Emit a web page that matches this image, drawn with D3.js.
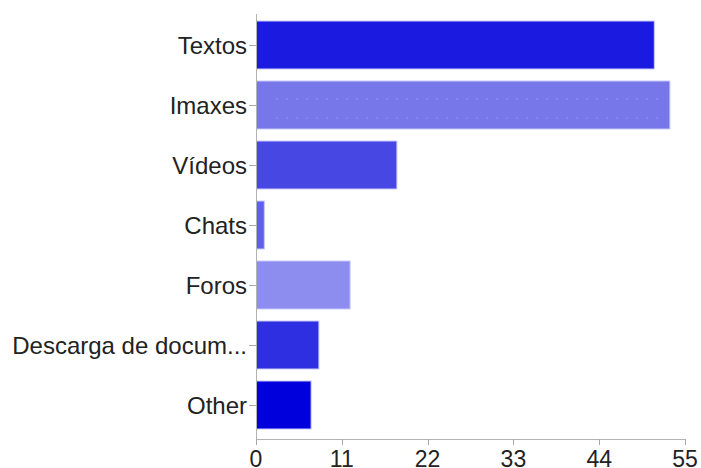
<!DOCTYPE html>
<html>
<head>
<meta charset="utf-8">
<script src="https://cdn.jsdelivr.net/npm/d3@7"></script>
<style>
  body { margin: 0; background: #fff; }
  text { font-family: "Liberation Sans", Arial, sans-serif; }
</style>
</head>
<body>
<div id="chart"></div>
<script>
var categories = ["Textos", "Imaxes", "Vídeos", "Chats", "Foros", "Descarga de docum...", "Other"];
var values = [51, 53, 18, 1, 12, 8, 7];
var colors = ["#1a1ae0", "#7777ea", "#4747e3", "#6060ee", "#8d8def", "#2f2fe2", "#0000dd"];
var tickValues = [0, 11, 22, 33, 44, 55];

var width = 701, height = 468;
var plotLeft = 256, plotRight = 685, plotTop = 15, plotBottom = 435, axisY = 439;

var svg = d3.select("#chart")
            .append("svg")
            .attr("width", width)
            .attr("height", height)

var x = d3.scaleLinear().domain([0, 55]).range([plotLeft, plotRight])
var y = d3.scaleBand().domain(categories).range([plotTop, plotBottom])
            .paddingInner(0.2).paddingOuter(0.1)

// faint dotted pattern seen on the "Imaxes" bar
var defs = svg.append("defs")
var pat = defs.append("pattern")
            .attr("id", "dots")
            .attr("patternUnits", "userSpaceOnUse")
            .attr("x", 276).attr("y", 94)
            .attr("width", 10).attr("height", 19)
pat.append("rect").attr("width", 10).attr("height", 19).attr("fill", colors[1])
pat.append("rect").attr("x", 0.5).attr("y", 4.5).attr("width", 1.2).attr("height", 1.2).attr("fill", "#9a9af3")

svg.selectAll("rect.bar")
    .data(values)
    .enter()
    .append("rect")
    .attr("class", "bar")
    .attr("x", x(0) + 0.5)
    .attr("y", (d, i) => y(categories[i]))
    .attr("width", (d) => x(d) - x(0))
    .attr("height", y.bandwidth())
    .attr("fill", (d, i) => colors[i])
    .attr("stroke", "#c9c9fb")
    .attr("stroke-width", 1)

// dots only in the inner part of Imaxes
svg.append("rect")
    .attr("x", 276)
    .attr("y", y("Imaxes") + 14)
    .attr("width", x(values[1]) - 10 - 276)
    .attr("height", 24)
    .attr("fill", "url(#dots)")

// y axis
var yAxis = svg.append("g")
yAxis.append("line")
    .attr("x1", plotLeft + 0.5).attr("x2", plotLeft + 0.5)
    .attr("y1", 14).attr("y2", axisY + 3)
    .attr("stroke", "#b3b3b3")
yAxis.selectAll("line.tick")
    .data(categories)
    .enter()
    .append("line")
    .attr("x1", plotLeft - 7).attr("x2", plotLeft)
    .attr("y1", (d) => y(d) + y.bandwidth() / 2 + 0.5)
    .attr("y2", (d) => y(d) + y.bandwidth() / 2 + 0.5)
    .attr("stroke", "#a8a8a8")
yAxis.selectAll("text")
    .data(categories)
    .enter()
    .append("text")
    .attr("x", plotLeft - 9)
    .attr("y", (d) => y(d) + y.bandwidth() / 2)
    .attr("dy", "0.36em")
    .attr("text-anchor", "end")
    .attr("font-size", 24)
    .attr("fill", "#222")
    .text((d) => d)

// x axis
var xAxis = svg.append("g")
xAxis.append("line")
    .attr("x1", plotLeft).attr("x2", plotRight + 0.5)
    .attr("y1", axisY + 0.5).attr("y2", axisY + 0.5)
    .attr("stroke", "#b3b3b3")
xAxis.selectAll("line.tick")
    .data(tickValues)
    .enter()
    .append("line")
    .attr("x1", (d) => Math.round(x(d)) + 0.5)
    .attr("x2", (d) => Math.round(x(d)) + 0.5)
    .attr("y1", axisY).attr("y2", axisY + 6)
    .attr("stroke", "#a8a8a8")
xAxis.selectAll("text")
    .data(tickValues)
    .enter()
    .append("text")
    .attr("x", (d) => x(d))
    .attr("y", 467)
    .attr("text-anchor", "middle")
    .attr("font-size", 23)
    .attr("fill", "#222")
    .text((d) => d)
</script>
</body>
</html>
